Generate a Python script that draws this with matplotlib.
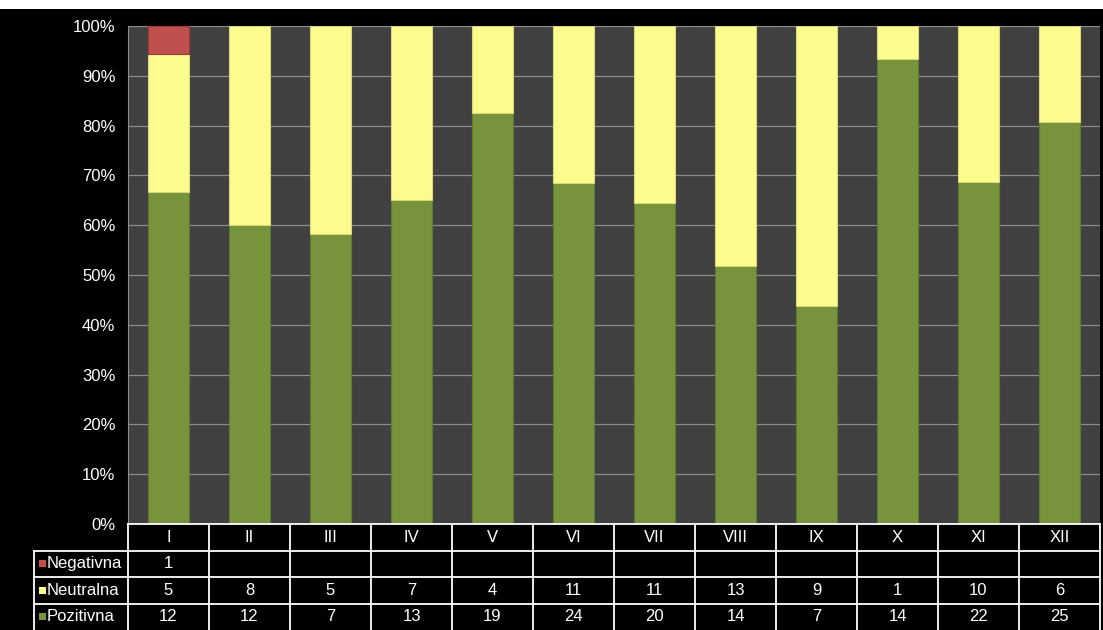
import numpy as np
import matplotlib
matplotlib.use('Agg')
import matplotlib.pyplot as plt
from matplotlib.patches import Rectangle
from matplotlib.lines import Line2D

plt.rc('font', family=['Liberation Sans', 'DejaVu Sans'], size=12)

months = ['I', 'II', 'III', 'IV', 'V', 'VI', 'VII', 'VIII', 'IX', 'X', 'XI', 'XII']
negativna = [1, 0, 0, 0, 0, 0, 0, 0, 0, 0, 0, 0]
neutralna = [5, 8, 5, 7, 4, 11, 11, 13, 9, 1, 10, 6]
pozitivna = [12, 12, 7, 13, 19, 24, 20, 14, 7, 14, 22, 25]
series_names = ['Negativna', 'Neutralna', 'Pozitivna']
colors = {'Negativna': '#C0504D', 'Neutralna': '#FBFB8E', 'Pozitivna': '#77933C'}

W, H = 1103, 630
fig = plt.figure(figsize=(W / 100, H / 100), dpi=100, facecolor='black')
# white strip at top
fig.patches.append(Rectangle((0, 1 - 9 / H), 1, 9 / H, transform=fig.transFigure,
                             facecolor='white', edgecolor='none', zorder=0))

left, right, top, bottom = 128, 1100, 26, 524
ax = fig.add_axes([left / W, 1 - bottom / H, (right - left) / W, (bottom - top) / H])
ax.set_facecolor('#404040')

pos = np.array(pozitivna, float)
neu = np.array(neutralna, float)
neg = np.array(negativna, float)
tot = pos + neu + neg
x = np.arange(len(months))
bw = 0.5
p1 = pos / tot * 100
p2 = neu / tot * 100
p3 = neg / tot * 100
ax.bar(x, p1, bw, color=colors['Pozitivna'], edgecolor='#5E7A2C', linewidth=0.8, zorder=3)
ax.bar(x, p2, bw, bottom=p1, color=colors['Neutralna'], edgecolor='#D8D878', linewidth=0.8, zorder=3)
m = p3 > 0
ax.bar(x[m], p3[m], bw, bottom=(p1 + p2)[m], color=colors['Negativna'], edgecolor='#9C3A37',
       linewidth=0.8, zorder=3)

ax.set_xlim(-0.5, len(months) - 0.5)
ax.set_ylim(0, 100)
ax.set_yticks(np.arange(0, 101, 10))
ax.set_yticklabels(['%d%%' % v for v in range(0, 101, 10)], color='white', fontsize=12)
ax.tick_params(axis='y', length=0, pad=9)
ax.set_xticks([])
ax.grid(axis='y', color='#8C8C8C', linewidth=0.9, zorder=1)
for s in ['top', 'right', 'bottom']:
    ax.spines[s].set_visible(False)
ax.spines['left'].set_color('#8C8C8C')

# data table drawn under the axes
rows = [negativna, neutralna, pozitivna]
row_h = 26.5
cw = (right - left) / len(months)
lw = 1.3
def fx(px):
    return px / W
def fy(py):
    return 1 - py / H

lab_left = 34
# horizontal lines
fig.add_artist(Line2D([fx(left), fx(right)], [fy(bottom), fy(bottom)], color='white', lw=lw))
for i in range(1, 4):
    yy = bottom + i * row_h
    fig.add_artist(Line2D([fx(lab_left), fx(right)], [fy(yy), fy(yy)], color='white', lw=lw))
# vertical lines
for j in range(len(months) + 1):
    xx = left + j * cw
    fig.add_artist(Line2D([fx(xx), fx(xx)], [fy(bottom), fy(H)], color='white', lw=lw))
fig.add_artist(Line2D([fx(lab_left), fx(lab_left)], [fy(bottom + row_h), fy(H)], color='white', lw=lw))

# header
for j, mo in enumerate(months):
    fig.text(fx(left + (j + 0.5) * cw), fy(bottom + row_h / 2), mo, color='white',
             ha='center', va='center', fontsize=12)
# rows
for i, (name, vals) in enumerate(zip(series_names, rows)):
    yc = bottom + (i + 1.5) * row_h
    fig.patches.append(Rectangle((fx(lab_left + 5), fy(yc + 3.5)), 7 / W, 7 / H,
                                 transform=fig.transFigure, facecolor=colors[name],
                                 edgecolor='none'))
    fig.text(fx(lab_left + 13), fy(yc), name, color='white', ha='left', va='center', fontsize=12)
    for j, v in enumerate(vals):
        if v:
            fig.text(fx(left + (j + 0.5) * cw), fy(yc), str(v), color='white',
                     ha='center', va='center', fontsize=12)

fig.savefig('out.png', dpi=100, facecolor=fig.get_facecolor())
